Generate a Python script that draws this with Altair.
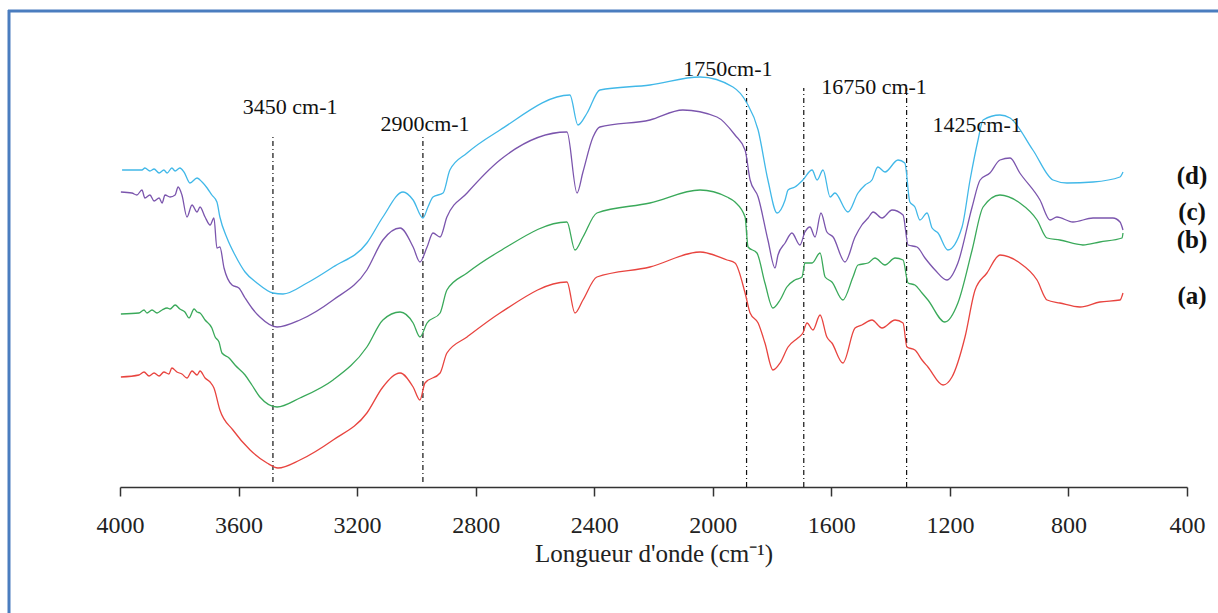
import altair as alt
import pandas as pd

# ---- spectra: wavenumber (cm-1) and transmittance (arbitrary units, offset curves) ----
d_wn = [3993, 3926, 3916, 3899, 3885, 3868, 3852, 3841, 3825, 3814, 3798, 3784, 3764, 3740, 3723, 3706,
        3690, 3673, 3663, 3639, 3612, 3578, 3538, 3484, 3450, 3369, 3281, 3167, 3113, 3045, 3011, 2978,
        2961, 2944, 2910, 2887, 2829, 2718, 2482, 2455, 2424, 2381, 2212, 2043, 1932, 1885, 1847, 1814,
        1783, 1756, 1746, 1723, 1696, 1665, 1648, 1628, 1604, 1588, 1544, 1510, 1486, 1463, 1443, 1419,
        1375, 1352, 1335, 1318, 1301, 1277, 1260, 1240, 1207, 1159, 1132, 1105, 1088, 1031, 997, 920,
        852, 805, 717, 626, 616]
d_val = [317, 317, 319, 316, 318, 314, 317, 314, 319, 316, 319, 315, 304, 309, 305, 299,
         292, 285, 270, 249, 232, 215, 204, 194, 193, 204, 220, 244, 270, 295, 287, 269,
         280, 290, 294, 317, 334, 357, 392, 362, 374, 397, 402, 410, 400, 384, 357, 307,
         274, 287, 297, 300, 307, 317, 307, 317, 290, 294, 275, 294, 302, 307, 320, 315,
         327, 324, 285, 280, 267, 274, 259, 254, 237, 260, 307, 347, 367, 372, 369, 337,
         307, 304, 305, 310, 315]

c_wn = [3997, 3960, 3943, 3926, 3916, 3899, 3885, 3868, 3858, 3848, 3831, 3814, 3804, 3791, 3774, 3757,
        3740, 3730, 3713, 3696, 3683, 3673, 3663, 3649, 3622, 3599, 3578, 3555, 3528, 3470, 3393, 3281,
        3167, 3113, 3055, 3011, 2988, 2964, 2944, 2920, 2897, 2829, 2718, 2492, 2458, 2438, 2404, 2381,
        2212, 2101, 1986, 1925, 1891, 1874, 1847, 1814, 1790, 1780, 1756, 1733, 1706, 1689, 1672, 1655,
        1635, 1615, 1594, 1554, 1520, 1497, 1476, 1459, 1429, 1395, 1358, 1341, 1311, 1284, 1250, 1210,
        1173, 1125, 1098, 1065, 1031, 997, 964, 896, 862, 839, 785, 717, 650, 626, 616]
c_val = [295, 294, 292, 297, 289, 292, 286, 289, 284, 292, 290, 292, 300, 292, 270, 282,
         275, 280, 270, 262, 269, 239, 240, 219, 202, 199, 189, 179, 170, 160, 167, 187,
         217, 247, 259, 240, 225, 240, 254, 250, 270, 294, 327, 355, 294, 315, 350, 360,
         367, 377, 370, 352, 337, 307, 290, 247, 219, 232, 244, 254, 242, 255, 260, 250,
         274, 255, 250, 225, 250, 262, 269, 275, 269, 277, 272, 242, 240, 229, 217, 207,
         224, 280, 307, 314, 327, 329, 314, 287, 267, 270, 265, 269, 269, 265, 257]

b_wn = [3997, 3936, 3919, 3909, 3892, 3875, 3858, 3841, 3831, 3814, 3798, 3781, 3767, 3750, 3740, 3730,
        3713, 3690, 3679, 3666, 3656, 3632, 3612, 3578, 3555, 3528, 3470, 3393, 3281, 3167, 3113, 3055,
        3011, 2988, 2964, 2920, 2897, 2829, 2718, 2492, 2465, 2438, 2391, 2212, 2043, 1952, 1925, 1891,
        1881, 1851, 1824, 1797, 1773, 1750, 1723, 1699, 1689, 1665, 1638, 1621, 1598, 1561, 1527, 1510,
        1476, 1453, 1419, 1385, 1358, 1341, 1318, 1294, 1274, 1217, 1173, 1125, 1088, 1031, 964, 906,
        872, 829, 751, 694, 619, 616]
b_val = [173, 174, 177, 174, 177, 174, 177, 179, 178, 182, 178, 175, 169, 178, 175, 174,
         167, 159, 150, 145, 134, 129, 122, 112, 102, 90, 80, 89, 107, 140, 167, 175,
         164, 150, 164, 174, 197, 214, 236, 265, 237, 250, 274, 284, 297, 290, 285, 270,
         240, 234, 204, 179, 187, 200, 207, 210, 224, 224, 234, 210, 205, 187, 210, 222,
         224, 229, 222, 229, 227, 204, 202, 194, 187, 165, 184, 237, 280, 292, 284, 267,
         249, 247, 242, 245, 249, 254]

a_wn = [3997, 3936, 3919, 3902, 3885, 3868, 3852, 3835, 3825, 3808, 3791, 3774, 3757, 3740, 3730, 3713,
        3696, 3683, 3663, 3619, 3561, 3504, 3467, 3393, 3281, 3167, 3113, 3055, 3011, 2988, 2971, 2920,
        2897, 2829, 2718, 2492, 2465, 2438, 2391, 2212, 2043, 1952, 1925, 1891, 1874, 1847, 1824, 1797,
        1773, 1746, 1713, 1696, 1682, 1662, 1638, 1615, 1598, 1561, 1520, 1497, 1463, 1429, 1385, 1358,
        1345, 1318, 1294, 1274, 1223, 1193, 1149, 1115, 1075, 1031, 964, 906, 872, 829, 761, 694,
        626, 616]
a_val = [110, 112, 115, 111, 114, 111, 115, 113, 119, 115, 113, 109, 116, 112, 116, 109,
         105, 99, 77, 57, 37, 24, 19, 27, 47, 74, 100, 114, 100, 87, 104, 114,
         134, 150, 174, 205, 174, 187, 210, 220, 235, 227, 224, 194, 174, 164, 144, 117,
         124, 140, 149, 154, 164, 157, 172, 150, 144, 124, 159, 162, 167, 159, 167, 164,
         140, 137, 127, 120, 102, 110, 150, 197, 214, 232, 224, 207, 187, 184, 180, 185,
         187, 194]

series_names = ["(d)", "(c)", "(b)", "(a)"]
series_colors = ["#41b8e8", "#7b55ad", "#3aa95a", "#e8443f"]

# ---- marker lines and their labels ----
line_wn = [3484, 2978, 1886, 1693, 1346]
line_top = [350, 350, 399, 399, 399]
line_bottom = [5, 5, 0, 0, 0]
peak_labels = ["3450 cm-1", "2900cm-1", "1750cm-1", "16750 cm-1", "1425cm-1"]
peak_label_wn = [3426, 2971, 1949, 1456, 1108]
peak_label_val = [373, 356, 411, 393, 355]

# ---- curve labels at right ----
tag_wn = [383, 383, 383, 383]
tag_val = [311, 275, 247, 191]

x_ticks = [4000, 3600, 3200, 2800, 2400, 2000, 1600, 1200, 800, 400]

rows = []
for name, wn, val in zip(series_names, [d_wn, c_wn, b_wn, a_wn], [d_val, c_val, b_val, a_val]):
    for w, v in zip(wn, val):
        rows.append({"serie": name, "wn": w, "T": v})
spectra = pd.DataFrame(rows)

lines_df = pd.DataFrame({"wn": line_wn, "top": line_top, "bottom": line_bottom})
peaks_df = pd.DataFrame({"label": peak_labels, "wn": peak_label_wn, "T": peak_label_val})
tags_df = pd.DataFrame({"label": series_names, "wn": tag_wn, "T": tag_val})

xscale = alt.Scale(domain=[4000, 400], nice=False, zero=False)
yscale = alt.Scale(domain=[0, 420], nice=False, zero=False)

xaxis = alt.Axis(
    values=x_ticks, format="d", grid=False,
    title="Longueur d'onde (cm⁻¹)",
    titleFont="Liberation Serif", titleFontSize=25, titleFontWeight="normal",
    titleColor="#222222", titleBaseline="alphabetic", titleY=74,
    labelFont="Liberation Serif", labelFontSize=24, labelColor="#222222",
    labelPadding=17, tickSize=9, tickColor="#333333", tickWidth=1.5,
    domainColor="#333333", domainWidth=1.6, labelFlush=False,
)

X = alt.X("wn:Q", scale=xscale, axis=xaxis)
Y = alt.Y("T:Q", scale=yscale, axis=None)

curves = alt.Chart(spectra).mark_line(strokeWidth=1.3, interpolate="monotone").encode(
    x=X, y=Y,
    color=alt.Color("serie:N", scale=alt.Scale(domain=series_names, range=series_colors), legend=None),
)

rules = alt.Chart(lines_df).mark_rule(color="#111111", strokeWidth=1.2, strokeDash=[5, 3, 1, 3]).encode(
    x=X,
    y=alt.Y("bottom:Q", scale=yscale, axis=None),
    y2="top:Q",
)

peak_text = alt.Chart(peaks_df).mark_text(
    font="Liberation Serif", fontSize=22, color="#111111", align="center", baseline="alphabetic"
).encode(x=X, y=Y, text="label:N")

tag_text = alt.Chart(tags_df).mark_text(
    font="Liberation Serif", fontSize=25, fontWeight="bold", color="#111111",
    align="center", baseline="middle"
).encode(x=X, y=Y, text="label:N")

frame_df = pd.DataFrame({"k": [0]})
border_left = alt.Chart(frame_df).mark_rule(color="#4a7dbf", strokeWidth=3).encode(
    x=alt.value(-111), y=alt.value(-57), y2=alt.value(560)
)
border_top = alt.Chart(frame_df).mark_rule(color="#4a7dbf", strokeWidth=3).encode(
    x=alt.value(-112), x2=alt.value(1110), y=alt.value(-56)
)

chart = alt.layer(rules, curves, peak_text, tag_text, border_left, border_top).properties(
    width=1067, height=420,
    padding={"left": 120, "top": 67, "right": 31, "bottom": 126},
    autosize=alt.AutoSizeParams(type="none"),
    background="white",
).configure_view(strokeWidth=0)

chart.save("out.html", embed_options={"renderer": "svg", "actions": False})
